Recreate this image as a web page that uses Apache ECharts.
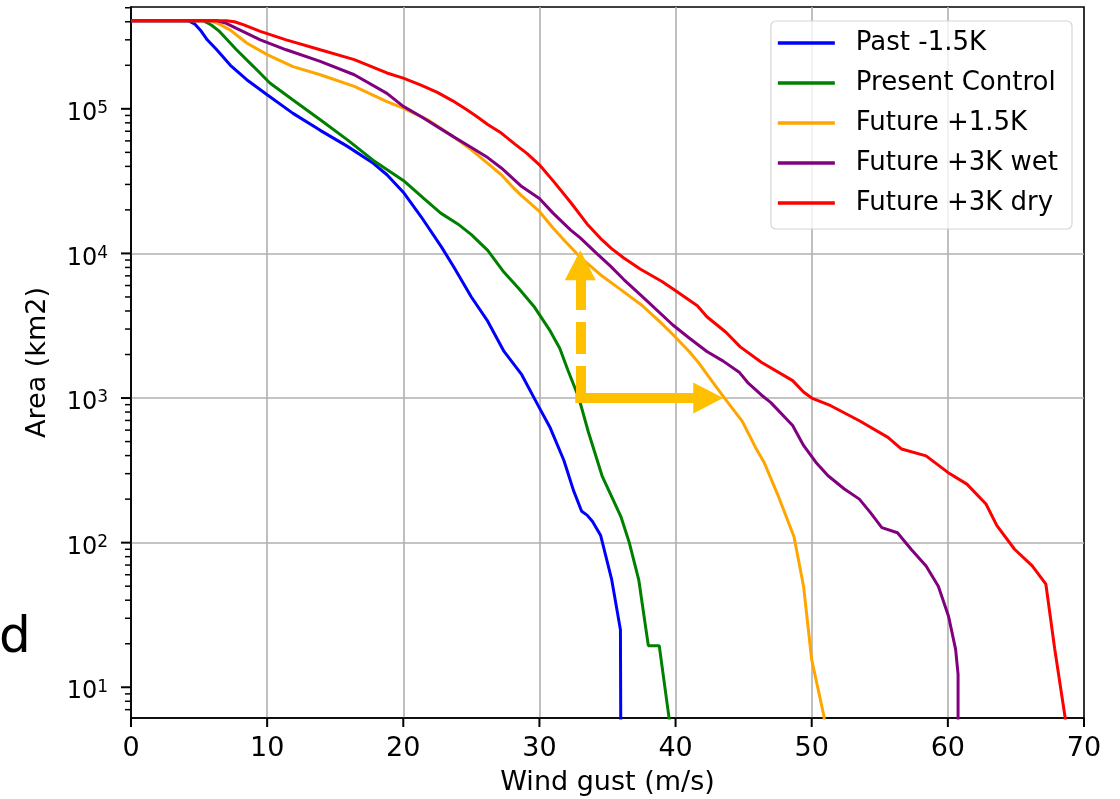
<!DOCTYPE html>
<html><head><meta charset="utf-8">
<script src="https://cdn.jsdelivr.net/npm/echarts@6/dist/echarts.min.js"></script>
<style>html,body{margin:0;padding:0;background:#fff}#c{width:1120px;height:799px}</style>
</head><body><div id="c"></div>
<script>
// ---- data (wind gust m/s, area km2) ----
const seriesNames = ['Past -1.5K', 'Present Control', 'Future +1.5K', 'Future +3K wet', 'Future +3K dry'];
const seriesColors = ['#0000ff', '#008000', '#ffa500', '#800080', '#ff0000'];

const past = [[0,4.07e5],[4.2,4.07e5],[4.7,3.85e5],[5.1,3.5e5],[5.6,3.0e5],[6.3,2.56e5],[7.3,2.0e5],[8.5,1.59e5],[10.0,1.25e5],[11.9,9.3e4],[13.9,7.1e4],[15.9,5.5e4],[17.8,4.2e4],[18.8,3.5e4],[20.0,2.65e4],[21.3,1.8e4],[22.8,1.11e4],[23.7,8.1e3],[25.0,5.0e3],[26.2,3.4e3],[27.4,2.1e3],[28.7,1.45e3],[29.9,890],[30.8,620],[31.8,370],[32.5,230],[33.1,165],[33.5,155],[33.9,140],[34.5,112],[35.3,56],[35.95,25],[36.0,1]];
const present = [[0,4.07e5],[5.3,4.07e5],[5.9,3.8e5],[6.5,3.43e5],[7.75,2.56e5],[9.0,1.96e5],[10.2,1.51e5],[11.9,1.15e5],[13.9,8.4e4],[15.9,6.1e4],[17.8,4.4e4],[20.0,3.2e4],[21.5,2.4e4],[22.75,1.9e4],[24.0,1.6e4],[25.0,1.35e4],[26.2,1.05e4],[27.4,7.4e3],[28.5,5.7e3],[29.6,4.3e3],[30.8,2.9e3],[31.5,2.2e3],[32.1,1.55e3],[32.9,1.0e3],[33.6,580],[34.6,290],[35.5,190],[36.0,150],[36.6,100],[37.3,55],[38.0,19.4],[38.8,19.4],[39.65,5]];
const future15 = [[0,4.07e5],[5.8,4.07e5],[6.5,3.85e5],[7.3,3.5e5],[8.5,2.85e5],[10.0,2.37e5],[11.9,1.96e5],[13.9,1.72e5],[16.4,1.43e5],[18.8,1.12e5],[20.0,1.01e5],[21.8,8.4e4],[23.7,6.4e4],[25.0,5.2e4],[26.2,4.2e4],[27.2,3.5e4],[28.0,2.9e4],[28.7,2.5e4],[30.0,1.95e4],[31.0,1.5e4],[31.8,1.24e4],[33.0,9.4e3],[34.5,7.1e3],[36.0,5.6e3],[37.5,4.4e3],[38.8,3.4e3],[39.8,2.75e3],[41.0,2.1e3],[41.7,1.75e3],[42.7,1.3e3],[43.6,1.0e3],[44.9,690],[45.9,450],[46.5,360],[47.5,215],[48.7,110],[49.4,50],[50.0,15.5],[50.9,6.3],[51.0,5]];
const future3wet = [[0,4.07e5],[6.3,4.07e5],[7.0,3.9e5],[7.75,3.6e5],[9.5,3.0e5],[11.4,2.56e5],[13.9,2.13e5],[16.4,1.72e5],[18.8,1.28e5],[20.0,1.04e5],[21.3,8.85e4],[23.7,6.4e4],[25.0,5.4e4],[26.2,4.6e4],[27.2,3.9e4],[28.7,2.9e4],[30.0,2.4e4],[31.0,1.9e4],[32.3,1.45e4],[33.0,1.28e4],[34.2,1.0e4],[35.2,8.2e3],[36.2,6.6e3],[37.8,4.8e3],[39.8,3.2e3],[41.0,2.6e3],[42.3,2.1e3],[43.5,1.8e3],[44.7,1.5e3],[45.3,1.28e3],[46.3,1.05e3],[47.0,930],[48.6,645],[49.4,470],[50.3,360],[51.2,290],[52.4,235],[53.5,200],[54.3,162],[55.15,127],[56.3,117],[57.3,90],[58.4,69],[59.3,50],[60.05,31],[60.57,18.3],[60.75,12.3],[60.75,1]];
const future3dry = [[0,4.07e5],[7.0,4.07e5],[7.6,4.0e5],[8.24,3.82e5],[9.5,3.43e5],[11.4,3.0e5],[13.9,2.56e5],[16.4,2.19e5],[18.8,1.77e5],[20.0,1.63e5],[21.3,1.46e5],[22.5,1.3e5],[23.6,1.14e5],[24.7,9.8e4],[25.5,8.7e4],[26.2,7.8e4],[27.2,6.8e4],[28.2,5.7e4],[29.1,4.9e4],[30.0,4.1e4],[31.1,3.1e4],[32.3,2.25e4],[33.5,1.6e4],[34.6,1.24e4],[35.3,1.08e4],[36.2,9.3e3],[37.4,7.8e3],[39.0,6.4e3],[39.9,5.6e3],[41.6,4.35e3],[42.3,3.65e3],[43.7,2.85e3],[44.75,2.26e3],[46.3,1.77e3],[48.6,1.32e3],[49.4,1.1e3],[50.0,1.0e3],[51.4,885],[53.5,697],[55.6,535],[56.6,444],[58.4,398],[60.0,306],[61.4,254],[62.8,185],[63.6,131],[64.9,90],[66.2,69],[67.2,51.6],[67.85,18.4],[68.6,6.3],[68.7,5]];

const xTicks = [0, 10, 20, 30, 40, 50, 60, 70];
const yMajorTicks = [10, 100, 1000, 10000, 100000];
const yMinorTicks = [7,8,9, 20,30,40,50,60,70,80,90, 200,300,400,500,600,700,800,900,
  2000,3000,4000,5000,6000,7000,8000,9000, 20000,30000,40000,50000,60000,70000,80000,90000,
  200000,300000,400000,500000];
const yMin = 6.13, yMax = 5.06e5;

// annotation arrows (data coordinates)
const arrowCorner = [33, 1000];
const arrowUpEnd = [33, 8300];
const arrowRightEnd = [42.4, 1000];

const FONT = 'DejaVu Sans';
const allData = [past, present, future15, future3wet, future3dry];

const chart = echarts.init(document.getElementById('c'), null, {renderer: 'canvas'});
const lineSeries = seriesNames.map((n, i) => ({
  name: n, type: 'line', data: allData[i], showSymbol: false, symbol: 'none',
  color: seriesColors[i], lineStyle: {width: 3, color: seriesColors[i]},
  clip: true, animation: false, z: 2
}));
lineSeries.push({
  name: 'arrows', type: 'line', data: [], z: 3, animation: false,
  markLine: {
    silent: true, animation: false,
    symbol: ['none', 'triangle'], symbolSize: [31, 30],
    label: {show: false},
    emphasis: {disabled: true},
    data: [
      [{coord: arrowCorner, lineStyle: {color: '#ffc000', width: 10, type: [32, 12], cap: 'butt'}, itemStyle: {color: '#ffc000'}}, {coord: arrowUpEnd}],
      [{coord: arrowCorner, lineStyle: {color: '#ffc000', width: 10, type: 'solid', cap: 'square'}, itemStyle: {color: '#ffc000'}}, {coord: arrowRightEnd}]
    ]
  }
});

const dLabel = {
  type: 'text', left: -1, top: 614, silent: true,
  style: {text: 'd', fontFamily: FONT, fontSize: 50, fill: '#000'}
};

chart.setOption({
  animation: false,
  backgroundColor: '#fff',
  textStyle: {fontFamily: FONT},
  grid: {left: 131, right: 36, top: 7, bottom: 81, show: true, borderColor: '#000', borderWidth: 1.6,
    backgroundColor: 'transparent', containLabel: false, outerBoundsMode: 'none'},
  legend: {
    data: seriesNames, orient: 'vertical', right: 48, top: 21,
    icon: 'rect', itemWidth: 57, itemHeight: 3.5, itemGap: 12,
    padding: [8, 14, 12, 7],
    backgroundColor: 'rgba(255,255,255,0.8)', borderColor: '#d6d6d6', borderWidth: 1.2, borderRadius: 5,
    selectedMode: false,
    textStyle: {fontFamily: FONT, fontSize: 26, color: '#000', lineHeight: 28, padding: [0, 0, 0, 16]}
  },
  xAxis: {
    type: 'value', min: xTicks[0], max: xTicks[xTicks.length - 1], interval: 10,
    name: 'Wind gust (m/s)', nameLocation: 'middle', nameGap: 51,
    nameTextStyle: {fontFamily: FONT, fontSize: 27, color: '#000'},
    axisLine: {show: true, onZero: false, lineStyle: {color: '#000', width: 1.6}},
    axisTick: {show: false},
    axisLabel: {fontFamily: FONT, fontSize: 27, color: '#000', margin: 17},
    splitLine: {show: true, showMinLine: false, showMaxLine: false, lineStyle: {color: '#b0b0b0', width: 1.6}}
  },
  yAxis: {
    type: 'log', logBase: 10, min: yMin, max: yMax,
    name: 'Area (km2)', nameLocation: 'middle', nameGap: 80,
    nameTextStyle: {fontFamily: FONT, fontSize: 27, color: '#000'},
    axisLine: {show: true, onZero: false, lineStyle: {color: '#000', width: 1.6}},
    axisTick: {show: false, customValues: yMajorTicks},
    axisLabel: {
      customValues: yMajorTicks, margin: 23, padding: [10, 0, 0, 0],
      formatter: v => '{b|10}{s|' + Math.round(Math.log10(v)) + '}',
      rich: {
        b: {fontFamily: FONT, fontSize: 24, lineHeight: 27, color: '#000'},
        s: {fontFamily: FONT, fontSize: 17, lineHeight: 17, color: '#000', verticalAlign: 'top'}
      }
    },
    splitLine: {show: true, showMinLine: false, showMaxLine: false, lineStyle: {color: '#b0b0b0', width: 1.6}}
  },
  graphic: [dLabel],
  series: lineSeries
});

// Tick marks placed through the chart's own axis scales (convertToPixel)
const tickEls = [];
const tickLine = (x1, y1, x2, y2, w) => ({
  type: 'line', silent: true, z: 50,
  shape: {x1: x1, y1: y1, x2: x2, y2: y2},
  style: {stroke: '#000', lineWidth: w}
});
xTicks.forEach(v => {
  const p = chart.convertToPixel({gridIndex: 0}, [v, yMin]);
  tickEls.push(tickLine(p[0], p[1], p[0], p[1] + 9, 2));
});
yMajorTicks.forEach(v => {
  const p = chart.convertToPixel({gridIndex: 0}, [xTicks[0], v]);
  tickEls.push(tickLine(p[0] - 10, p[1], p[0], p[1], 2));
});
yMinorTicks.forEach(v => {
  const p = chart.convertToPixel({gridIndex: 0}, [xTicks[0], v]);
  tickEls.push(tickLine(p[0] - 6, p[1], p[0], p[1], 1.5));
});
chart.setOption({graphic: [dLabel].concat(tickEls)});
</script>
</body></html>
